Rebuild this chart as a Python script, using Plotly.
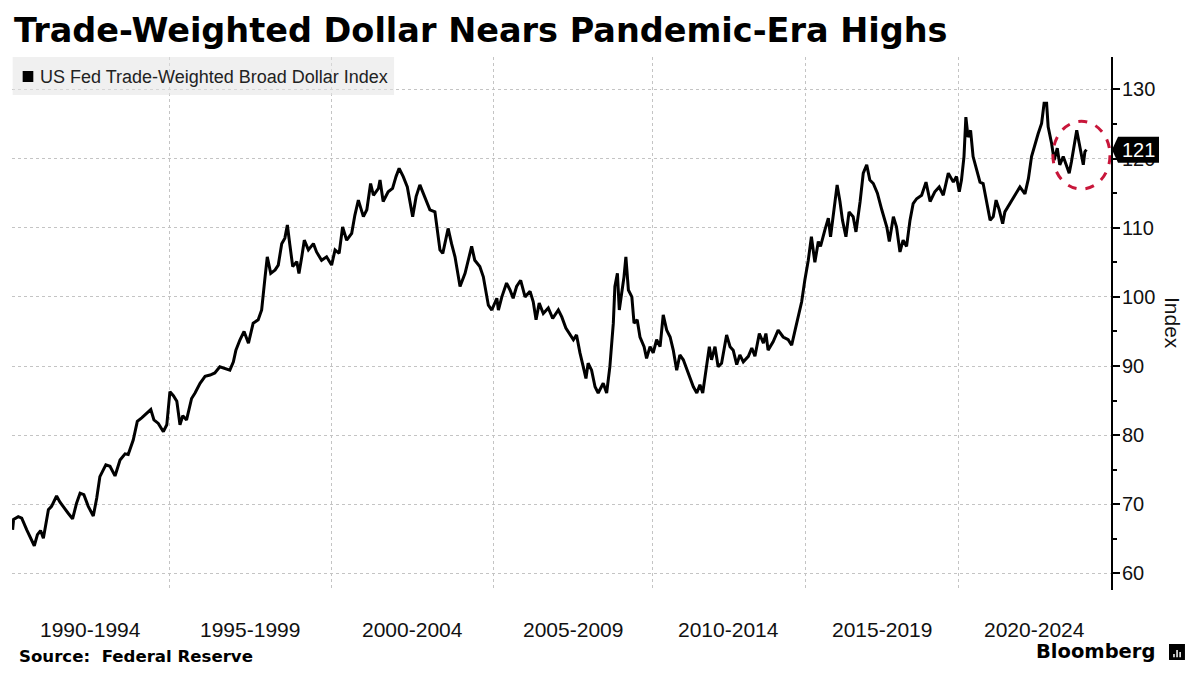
import plotly.graph_objects as go
from datetime import datetime, timedelta

obs_year = [
    1990.02, 1990.05, 1990.20, 1990.31, 1990.47, 1990.63, 1990.71, 1990.81, 1990.91, 1991.00,
    1991.16, 1991.26, 1991.42, 1991.53, 1991.69, 1991.79, 1991.93, 1992.06, 1992.17, 1992.29,
    1992.43, 1992.59, 1992.70, 1992.80, 1992.99, 1993.12, 1993.28, 1993.44, 1993.60, 1993.70,
    1993.86, 1993.99, 1994.13, 1994.29, 1994.42, 1994.52, 1994.66, 1994.82, 1994.93, 1995.03,
    1995.14, 1995.25, 1995.35, 1995.44, 1995.56, 1995.72, 1995.83, 1995.99, 1996.15, 1996.31,
    1996.46, 1996.62, 1996.78, 1996.94, 1997.05, 1997.13, 1997.26, 1997.39, 1997.53, 1997.68,
    1997.84, 1997.95, 1998.06, 1998.13, 1998.24, 1998.38, 1998.48, 1998.59, 1998.69, 1998.77,
    1998.85, 1998.94, 1999.07, 1999.14, 1999.23, 1999.31, 1999.44, 1999.60, 1999.70, 1999.86,
    2000.02, 2000.18, 2000.29, 2000.42, 2000.53, 2000.66, 2000.82, 2000.92, 2001.03, 2001.19,
    2001.30, 2001.42, 2001.51, 2001.67, 2001.72, 2001.82, 2001.98, 2002.12, 2002.23, 2002.33,
    2002.46, 2002.59, 2002.76, 2002.87, 2002.99, 2003.15, 2003.31, 2003.47, 2003.63, 2003.72,
    2003.89, 2004.00, 2004.11, 2004.27, 2004.43, 2004.64, 2004.74, 2004.90, 2005.01, 2005.17,
    2005.28, 2005.44, 2005.49, 2005.60, 2005.75, 2005.86, 2005.96, 2006.07, 2006.20, 2006.34,
    2006.50, 2006.60, 2006.69, 2006.79, 2006.92, 2007.08, 2007.22, 2007.40, 2007.51, 2007.64,
    2007.77, 2007.88, 2007.98, 2008.09, 2008.22, 2008.28, 2008.35, 2008.46, 2008.57, 2008.67,
    2008.83, 2008.94, 2009.04, 2009.15, 2009.20, 2009.28, 2009.34, 2009.42, 2009.49, 2009.55,
    2009.63, 2009.74, 2009.81, 2009.91, 2010.00, 2010.13, 2010.21, 2010.32, 2010.42, 2010.53,
    2010.64, 2010.74, 2010.85, 2010.96, 2011.06, 2011.17, 2011.27, 2011.38, 2011.54, 2011.70,
    2011.81, 2011.91, 2012.00, 2012.12, 2012.21, 2012.28, 2012.39, 2012.49, 2012.60, 2012.76,
    2012.87, 2012.97, 2013.08, 2013.18, 2013.29, 2013.45, 2013.56, 2013.66, 2013.80, 2013.93,
    2014.01, 2014.08, 2014.24, 2014.40, 2014.56, 2014.72, 2014.83, 2014.94, 2015.04, 2015.15,
    2015.25, 2015.36, 2015.46, 2015.57, 2015.68, 2015.75, 2015.89, 2016.00, 2016.07, 2016.18,
    2016.28, 2016.37, 2016.45, 2016.56, 2016.66, 2016.79, 2016.88, 2017.01, 2017.11, 2017.22,
    2017.32, 2017.43, 2017.56, 2017.70, 2017.86, 2017.94, 2018.07, 2018.17, 2018.28, 2018.38,
    2018.49, 2018.60, 2018.70, 2018.81, 2018.97, 2019.11, 2019.24, 2019.39, 2019.53, 2019.66,
    2019.82, 2019.98, 2020.08, 2020.17, 2020.24, 2020.32, 2020.38, 2020.45, 2020.53, 2020.61,
    2020.72, 2020.83, 2020.93, 2021.04, 2021.15, 2021.25, 2021.34, 2021.44, 2021.55, 2021.62,
    2021.78, 2021.94, 2022.10, 2022.26, 2022.37, 2022.47, 2022.58, 2022.68, 2022.79, 2022.87,
    2022.95, 2023.00, 2023.11, 2023.19, 2023.29, 2023.37, 2023.48, 2023.59, 2023.67, 2023.74,
    2023.80, 2023.91, 2023.99, 2024.07, 2024.12, 2024.17, 2024.22,
]

index_value = [
    66.3, 67.8, 68.2, 68.0, 66.3, 64.9, 64.0, 65.6, 66.2, 65.1,
    69.2, 69.7, 71.2, 70.3, 69.2, 68.7, 67.9, 70.2, 71.6, 71.4,
    69.7, 68.3, 70.9, 74.0, 75.7, 75.5, 74.1, 76.4, 77.3, 77.2,
    79.3, 82.0, 82.5, 83.2, 83.7, 82.2, 81.7, 80.5, 81.5, 86.3,
    85.7, 84.9, 81.5, 82.8, 82.2, 85.3, 86.1, 87.5, 88.5, 88.7,
    89.0, 89.9, 89.7, 89.4, 90.6, 92.3, 93.8, 95.0, 93.3, 96.2,
    96.7, 98.1, 102.9, 105.8, 103.4, 103.9, 104.6, 107.7, 108.5, 110.4,
    107.5, 104.4, 105.1, 103.4, 105.8, 108.2, 106.8, 107.7, 106.5, 105.3,
    105.8, 104.6, 106.8, 106.3, 110.1, 108.2, 109.2, 111.8, 114.0, 111.6,
    112.6, 116.4, 114.7, 115.7, 116.9, 113.8, 115.2, 115.7, 117.4, 118.6,
    117.4, 115.9, 111.6, 114.5, 116.2, 114.5, 112.6, 112.3, 106.8, 106.3,
    109.9, 107.7, 105.8, 101.5, 103.4, 107.3, 105.3, 104.4, 102.9, 98.8,
    98.1, 99.8, 98.1, 100.0, 102.0, 101.0, 99.8, 101.5, 102.4, 100.0,
    100.8, 99.3, 96.7, 99.1, 97.6, 98.4, 96.9, 98.1, 97.1, 95.5,
    94.5, 93.8, 94.5, 91.9, 89.4, 88.2, 90.4, 89.4, 87.0, 86.1,
    87.5, 86.1, 89.9, 96.2, 101.5, 103.4, 98.1, 100.5, 102.9, 105.8,
    101.0, 100.0, 96.2, 96.7, 94.2, 92.8, 91.1, 92.8, 91.9, 93.8,
    92.8, 97.4, 95.2, 94.2, 92.3, 89.4, 91.6, 90.9, 89.0, 87.0,
    86.1, 87.3, 86.1, 89.9, 92.8, 90.9, 92.8, 89.9, 90.4, 94.5,
    92.8, 92.3, 90.2, 91.6, 90.6, 91.4, 92.6, 91.4, 94.7, 93.3,
    94.7, 92.3, 93.5, 95.2, 94.2, 93.8, 93.0, 95.2, 97.1, 99.3,
    102.4, 105.3, 108.7, 105.0, 108.0, 107.3, 109.7, 111.4, 108.7, 112.3,
    116.2, 113.8, 111.1, 108.7, 112.3, 111.6, 109.4, 113.8, 117.9, 119.1,
    116.9, 116.4, 115.0, 112.6, 110.1, 108.0, 111.6, 110.1, 106.5, 108.2,
    107.3, 111.1, 113.5, 114.2, 114.7, 116.6, 113.8, 115.2, 115.9, 114.7,
    117.9, 116.6, 117.4, 115.2, 116.9, 120.3, 126.0, 123.1, 124.1, 120.3,
    118.3, 116.6, 116.4, 113.5, 111.1, 111.6, 114.0, 112.6, 110.6, 112.3,
    113.5, 114.5, 115.9, 114.9, 117.1, 120.3, 122.2, 123.6, 125.1, 128.0,
    128.0, 124.6, 122.2, 119.8, 121.5, 119.1, 120.3, 118.8, 117.9, 119.5,
    121.2, 124.1, 122.2, 120.3, 119.1, 121.0, 121.3,
]

# period labels along the bottom and the vertical gridline positions between them
period_labels = ["1990-1994", "1995-1999", "2000-2004", "2005-2009",
                 "2010-2014", "2015-2019", "2020-2024"]
grid_year = [1995.01, 2000.17, 2005.32, 2010.39, 2015.28, 2020.16]
x_start, x_end = 1990.0, 2025.0
y_ticks = [60, 70, 80, 90, 100, 110, 120, 130]


def to_date(y):
    yr = int(y)
    return datetime(yr, 1, 1) + timedelta(days=(y - yr) * 365.25)


obs_dates = [to_date(y) for y in obs_year]
last_val = index_value[-1]

fig = go.Figure()
fig.add_trace(go.Scatter(
    x=obs_dates, y=index_value, mode="lines",
    line=dict(color="black", width=3),
    name="US Fed Trade-Weighted Broad Dollar Index",
    showlegend=False,
))

grid_style = dict(showgrid=True, gridcolor="#c4c4c4", griddash="dot", gridwidth=1)

fig.update_xaxes(
    type="date",
    range=[to_date(x_start), to_date(x_end)],
    tickvals=[to_date(y) for y in grid_year],
    showticklabels=False, ticks="", zeroline=False, showline=False,
    **grid_style,
)
fig.update_yaxes(
    side="right", range=[57.6, 134.7], tickvals=y_ticks,
    ticks="outside", ticklen=7, tickwidth=1.5, tickcolor="black",
    minor=dict(dtick=5, tick0=0, ticks="outside", ticklen=4, tickcolor="black", showgrid=False),
    showline=True, linecolor="black", linewidth=2, zeroline=False,
    ticklabelstandoff=-2,
    tickfont=dict(family="Liberation Sans", size=20, color="#111"),
    **grid_style,
)

# period labels centred between gridlines
bounds = [x_start] + grid_year + [x_end]
for i, lab in enumerate(period_labels):
    mid = (bounds[i] + bounds[i + 1]) / 2
    fig.add_annotation(x=to_date(mid), xref="x", y=-0.075, yref="paper",
                       text=lab, showarrow=False, xanchor="center", yanchor="middle",
                       font=dict(family="Liberation Sans", size=21, color="#111"))

# legend box
fig.add_shape(type="rect", xref="paper", yref="paper", x0=0.0006, x1=0.3476, y0=0.9287, y1=1.0,
              fillcolor="rgba(228,228,228,0.55)", line=dict(width=0), layer="above")
fig.add_shape(type="rect", xref="paper", yref="paper", x0=0.0097, x1=0.0194, y0=0.9531, y1=0.9737,
              fillcolor="black", line=dict(width=0), layer="above")
fig.add_annotation(x=0.0239, xref="paper", y=0.9625, yref="paper", xanchor="left", yanchor="middle",
                   text="US Fed Trade-Weighted Broad Dollar Index", showarrow=False,
                   font=dict(family="Liberation Sans", size=18, color="#222"))

# red dashed highlight around the latest moves
fig.add_shape(type="circle", xref="x", yref="y",
              x0=to_date(2023.15), x1=to_date(2024.97), y0=115.6, y1=125.4,
              line=dict(color="#c8163a", width=3, dash="dash"))

# last value tag on the axis
h = 1.88
fig.add_shape(type="path", xref="paper", yref="y",
              path=(f"M 1.0009,{last_val} L 1.0064,{last_val + h} L 1.0437,{last_val + h} "
                    f"L 1.0437,{last_val - h} L 1.0064,{last_val - h} Z"),
              fillcolor="black", line=dict(width=0))
fig.add_annotation(x=1.025, xref="paper", y=last_val, yref="y", text=f"{last_val:.0f}",
                   showarrow=False, xanchor="center", yanchor="middle",
                   font=dict(family="Liberation Sans", size=20, color="white"))

# axis title
fig.add_annotation(x=1.0555, xref="paper", y=0.501, yref="paper", text="Index", textangle=90,
                   showarrow=False, xanchor="center", yanchor="middle",
                   font=dict(family="Liberation Sans", size=21, color="#111"))

# title, source and logo
fig.add_annotation(x=0.0, xref="paper", y=1.0497, yref="paper", xanchor="left", yanchor="middle",
                   text="<b>Trade-Weighted Dollar Nears Pandemic-Era Highs</b>", showarrow=False,
                   font=dict(family="DejaVu Sans", size=33.5, color="black"))
fig.add_annotation(x=0.0043, xref="paper", y=-0.124, yref="paper", xanchor="left", yanchor="middle",
                   text="<b>Source:  Federal Reserve</b>", showarrow=False,
                   font=dict(family="DejaVu Sans", size=16.6, color="black"))
fig.add_annotation(x=1.0418, xref="paper", y=-0.1163, yref="paper", xanchor="right", yanchor="middle",
                   text="<b>Bloomberg</b>", showarrow=False,
                   font=dict(family="DejaVu Sans", size=19.5, color="black"))
fig.add_shape(type="rect", xref="paper", yref="paper", x0=1.0528, x1=1.0673, y0=-0.1313, y1=-0.1013,
              fillcolor="black", line=dict(width=0))
for bx, top in [(1.0573, -0.1200), (1.0601, -0.1125), (1.0629, -0.1163)]:
    fig.add_shape(type="line", xref="paper", yref="paper", x0=bx, x1=bx, y0=-0.1260, y1=top,
                  line=dict(color="white", width=1.5))

# the page adds an 8px body margin, so the plot area is offset to compensate
fig.update_layout(
    width=1200, height=675,
    margin=dict(l=4, r=97, t=49, b=93),
    plot_bgcolor="white", paper_bgcolor="white",
    showlegend=False,
)

fig.write_html("out.html")
